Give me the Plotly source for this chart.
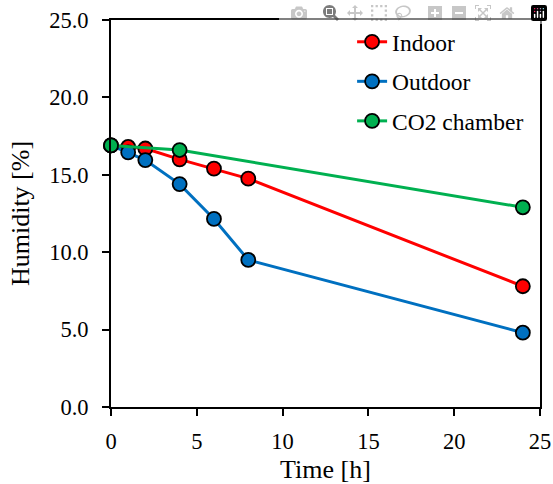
import plotly.graph_objects as go

# Data
indoor_t = [0, 1, 2, 4, 6, 8, 24]
indoor_h = [16.9, 16.8, 16.7, 16.0, 15.4, 14.75, 7.8]
outdoor_t = [0, 1, 2, 4, 6, 8, 24]
outdoor_h = [16.9, 16.45, 15.95, 14.4, 12.15, 9.5, 4.8]
co2_t = [0, 4, 24]
co2_h = [16.9, 16.6, 12.9]
x_ticks = [0, 5, 10, 15, 20, 25]
y_ticks = [0, 5, 10, 15, 20, 25]

series = [
    ("Indoor", indoor_t, indoor_h, "#FF0000"),
    ("Outdoor", outdoor_t, outdoor_h, "#0070C0"),
    ("CO2 chamber", co2_t, co2_h, "#00B050"),
]

FONT = "Liberation Serif"

fig = go.Figure()
for name, t, h, c in series:
    fig.add_trace(go.Scatter(
        x=t, y=h, name=name, mode="lines+markers",
        line=dict(color=c, width=3),
        marker=dict(color=c, size=14, line=dict(color="black", width=1.8)),
        cliponaxis=False, legendgroup=name,
    ))

fig.update_layout(
    width=553, height=484,
    margin=dict(l=111, r=13, t=20, b=77),
    paper_bgcolor="white", plot_bgcolor="white",
    font=dict(family=FONT, color="black", size=22),
    showlegend=True,
    legend=dict(
        x=0.562, y=1.0, xanchor="left", yanchor="top",
        font=dict(family=FONT, size=23.5, color="black"),
        bgcolor="rgba(0,0,0,0)", traceorder="grouped", tracegroupgap=6,
    ),
    xaxis=dict(
        range=[0, 25], tickvals=x_ticks,
        showgrid=False, zeroline=False, automargin=False,
        showline=True, linecolor="black", linewidth=2, mirror=True,
        ticks="outside", ticklen=7, tickwidth=2, tickcolor="black",
        ticklabelstandoff=6,
        tickfont=dict(family=FONT, size=22.5, color="black"),
        title=dict(text="Time [h]", font=dict(family=FONT, size=26, color="black"), standoff=8),
    ),
    yaxis=dict(
        range=[0, 25], tickvals=y_ticks, tickformat=".1f",
        showgrid=False, zeroline=False, automargin=False,
        showline=True, linecolor="black", linewidth=2, mirror=True,
        ticks="outside", ticklen=7, tickwidth=2, tickcolor="black",
        ticklabelstandoff=9,
        tickfont=dict(family=FONT, size=22.5, color="black"),
        title=dict(text="Humidity [%]", font=dict(family=FONT, size=26, color="black"), standoff=12),
    ),
)

fig.write_html(
    "out.html",
    post_script="document.body.style.margin='0';document.body.style.overflow='hidden';window.scrollTo(0,0);",
)
